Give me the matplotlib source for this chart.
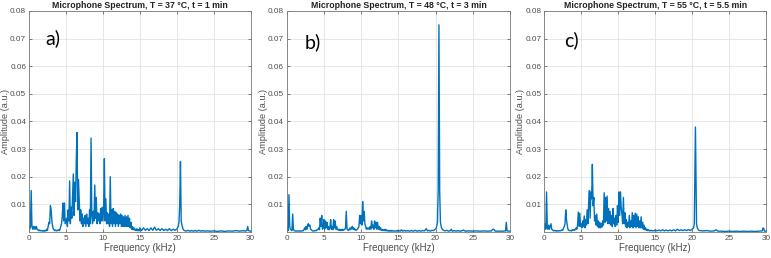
import numpy as np
import matplotlib
matplotlib.use("Agg")
import matplotlib.pyplot as plt

# microphone spectra (frequency in kHz, amplitude a.u.)
# dense part: 0.0 .. 14.9 kHz every 0.1 kHz, then sparser points up to 30 kHz
dense_f = [round(0.1 * i, 1) for i in range(150)]

amp_a_dense = [
    0.002, 0.001, 0.002, 0.015, 0.002, 0.001, 0.002, 0.001, 0.002, 0.001,
    0.002, 0.001, 0.0008, 0.0005, 0.0007, 0.0004, 0.0006, 0.0004, 0.0005, 0.0003,
    0.0005, 0.0003, 0.0006, 0.0004, 0.001, 0.0006, 0.002, 0.0035, 0.003, 0.0095,
    0.008, 0.004, 0.002, 0.001, 0.0008, 0.0005, 0.0007, 0.0004, 0.0006, 0.0005,
    0.0008, 0.0005, 0.001, 0.002, 0.003, 0.0055, 0.0105, 0.004, 0.0105, 0.003,
    0.0035, 0.005, 0.002, 0.008, 0.004, 0.0185, 0.003, 0.009, 0.005, 0.0125,
    0.021, 0.006, 0.018, 0.011, 0.026, 0.036, 0.008, 0.019, 0.012, 0.004,
    0.008, 0.003, 0.0065, 0.002, 0.005, 0.003, 0.006, 0.002, 0.0065, 0.003,
    0.005, 0.002, 0.008, 0.003, 0.034, 0.006, 0.003, 0.0075, 0.004, 0.017,
    0.005, 0.0125, 0.003, 0.007, 0.004, 0.0065, 0.003, 0.0085, 0.004, 0.009,
    0.004, 0.0085, 0.0265, 0.004, 0.012, 0.003, 0.007, 0.003, 0.0065, 0.002,
    0.020, 0.003, 0.008, 0.002, 0.0085, 0.003, 0.0075, 0.002, 0.007, 0.003,
    0.0065, 0.002, 0.006, 0.003, 0.0065, 0.002, 0.006, 0.002, 0.0055, 0.002,
    0.006, 0.002, 0.0055, 0.002, 0.006, 0.002, 0.005, 0.0015, 0.0035, 0.001,
    0.002, 0.0008, 0.0015, 0.0007, 0.001, 0.0005, 0.0012, 0.0005, 0.0008, 0.0004,
]
freq_a_tail = [15.0, 15.25, 15.5, 15.75, 16.0, 16.25, 16.5, 16.75, 17.0, 17.25,
               17.5, 17.75, 18.0, 18.25, 18.5, 18.75, 19.0, 19.25, 19.5, 19.75,
               20.0, 20.2, 20.3, 20.4, 20.5, 20.6, 20.7, 20.85, 21.0, 21.25,
               21.5, 21.75, 22.0, 22.25, 22.5, 22.75, 23.0, 23.25, 23.5, 23.75,
               24.0, 24.5, 25.0, 25.5, 26.0, 26.5, 27.0, 27.5, 28.0, 28.5,
               29.0, 29.3, 29.5, 29.6, 29.7, 30.0]
amp_a_tail = [0.0015, 0.0005, 0.0015, 0.0006, 0.0012, 0.0005, 0.0015, 0.0006, 0.0018, 0.0006,
              0.0012, 0.0005, 0.0012, 0.0005, 0.001, 0.0005, 0.0012, 0.0005, 0.001, 0.0006,
              0.001, 0.002, 0.0035, 0.01, 0.0255, 0.004, 0.0025, 0.001, 0.0006, 0.0003,
              0.0006, 0.0003, 0.0005, 0.0003, 0.0005, 0.0003, 0.0006, 0.0003, 0.0005, 0.0003,
              0.0004, 0.0003, 0.0004, 0.0002, 0.0004, 0.0002, 0.0004, 0.0003, 0.0005, 0.0003,
              0.0005, 0.0003, 0.0006, 0.002, 0.0005, 0.0003]

amp_b_dense = [
    0.001, 0.002, 0.0005, 0.0135, 0.002, 0.001, 0.0008, 0.0005, 0.0065, 0.001,
    0.0005, 0.0004, 0.0003, 0.0004, 0.0003, 0.0004, 0.0003, 0.0004, 0.0003, 0.0004,
    0.0003, 0.0005, 0.0004, 0.0008, 0.0015, 0.0008, 0.002, 0.001, 0.0025, 0.003,
    0.002, 0.0025, 0.001, 0.0008, 0.0005, 0.0004, 0.0003, 0.0005, 0.0004, 0.0006,
    0.0005, 0.0008, 0.001, 0.0015, 0.0008, 0.005, 0.002, 0.006, 0.001, 0.0015,
    0.0045, 0.001, 0.004, 0.0015, 0.0035, 0.001, 0.002, 0.0008, 0.0015, 0.0045,
    0.001, 0.002, 0.0008, 0.0045, 0.0015, 0.004, 0.001, 0.002, 0.0008, 0.001,
    0.0006, 0.001, 0.0005, 0.0008, 0.0005, 0.001, 0.0006, 0.0008, 0.001, 0.0015,
    0.0075, 0.001, 0.0008, 0.0005, 0.001, 0.0015, 0.0008, 0.0015, 0.002, 0.001,
    0.0015, 0.0008, 0.001, 0.0006, 0.0008, 0.001, 0.0015, 0.002, 0.006, 0.003,
    0.006, 0.0025, 0.011, 0.004, 0.0075, 0.003, 0.002, 0.001, 0.0015, 0.001,
    0.0015, 0.001, 0.002, 0.001, 0.004, 0.0015, 0.0025, 0.001, 0.004, 0.0015,
    0.0035, 0.001, 0.0035, 0.001, 0.002, 0.0008, 0.0015, 0.0006, 0.001, 0.0005,
    0.0008, 0.0005, 0.001, 0.0004, 0.0008, 0.0004, 0.0006, 0.0003, 0.0005, 0.0003,
    0.0006, 0.0003, 0.0005, 0.0003, 0.0004, 0.0003, 0.0004, 0.0003, 0.0005, 0.0003,
]
freq_b_tail = [15.0, 15.25, 15.4, 15.6, 15.8, 16.0, 16.25, 16.5, 16.75, 17.0,
               17.25, 17.5, 17.75, 18.0, 18.25, 18.5, 18.75, 18.9, 19.1, 19.3,
               19.5, 19.7, 19.9, 20.05, 20.15, 20.25, 20.35, 20.45, 20.55, 20.65,
               20.75, 20.85, 21.0, 21.25, 21.5, 21.75, 22.0, 22.1, 22.25, 22.5,
               22.75, 23.0, 23.25, 23.5, 23.75, 24.0, 24.5, 25.0, 25.5, 26.0,
               26.5, 27.0, 27.5, 27.7, 27.85, 28.0, 28.5, 29.0, 29.4, 29.5,
               29.6, 30.0]
amp_b_tail = [0.0006, 0.0003, 0.0008, 0.0003, 0.0006, 0.0003, 0.0005, 0.0003, 0.0005, 0.0003,
              0.0006, 0.0003, 0.0005, 0.0003, 0.0005, 0.0004, 0.0012, 0.0004, 0.0006, 0.0003,
              0.0006, 0.0005, 0.0009, 0.0012, 0.002, 0.0035, 0.015, 0.075, 0.015, 0.0035,
              0.002, 0.0012, 0.0007, 0.0004, 0.0006, 0.0003, 0.0005, 0.001, 0.0003, 0.0005,
              0.0003, 0.0005, 0.0003, 0.0004, 0.0007, 0.0003, 0.0004, 0.0003, 0.0004, 0.0003,
              0.0004, 0.0003, 0.0004, 0.001, 0.0009, 0.0003, 0.0003, 0.0003, 0.0004, 0.0035,
              0.0004, 0.0003]

amp_c_dense = [
    0.001, 0.003, 0.001, 0.0145, 0.002, 0.001, 0.0025, 0.001, 0.002, 0.003,
    0.001, 0.0008, 0.0005, 0.0004, 0.0006, 0.0004, 0.0005, 0.0003, 0.0005, 0.0004,
    0.0004, 0.0005, 0.0004, 0.0006, 0.0008, 0.0006, 0.0015, 0.002, 0.003, 0.008,
    0.0045, 0.0025, 0.001, 0.0006, 0.0005, 0.0004, 0.0006, 0.0004, 0.0008, 0.0006,
    0.0008, 0.0006, 0.001, 0.0015, 0.001, 0.0025, 0.0072, 0.002, 0.0068, 0.002,
    0.003, 0.0015, 0.004, 0.002, 0.0058, 0.0015, 0.0045, 0.0025, 0.008, 0.003,
    0.0105, 0.015, 0.005, 0.0145, 0.012, 0.0245, 0.0095, 0.0125, 0.004, 0.006,
    0.0025, 0.0065, 0.002, 0.004, 0.0015, 0.0035, 0.0015, 0.003, 0.0018, 0.004,
    0.0025, 0.0142, 0.0035, 0.0125, 0.004, 0.013, 0.003, 0.0085, 0.003, 0.0075,
    0.0025, 0.006, 0.002, 0.0085, 0.003, 0.005, 0.002, 0.006, 0.0025, 0.0095,
    0.0035, 0.0145, 0.006, 0.0145, 0.009, 0.0065, 0.003, 0.0125, 0.003, 0.007,
    0.002, 0.0045, 0.0015, 0.0035, 0.002, 0.006, 0.0015, 0.004, 0.002, 0.007,
    0.0015, 0.006, 0.002, 0.0068, 0.0015, 0.0065, 0.002, 0.0055, 0.0015, 0.004,
    0.0015, 0.0055, 0.0015, 0.0035, 0.001, 0.0025, 0.0008, 0.0015, 0.0006, 0.001,
    0.0005, 0.0008, 0.0004, 0.0006, 0.0004, 0.0006, 0.0004, 0.0005, 0.0004, 0.0005,
]
freq_c_tail = [15.0, 15.25, 15.5, 15.75, 16.0, 16.25, 16.5, 16.75, 17.0, 17.25,
               17.5, 17.75, 18.0, 18.25, 18.5, 18.75, 19.0, 19.25, 19.5, 19.75,
               20.0, 20.2, 20.3, 20.45, 20.6, 20.7, 20.85, 21.0, 21.5, 22.0,
               22.5, 23.0, 23.25, 23.5, 24.0, 24.5, 25.0, 25.5, 26.0, 26.5,
               27.0, 27.5, 28.0, 28.5, 29.0, 29.5, 29.6, 29.7, 29.8, 30.0]
amp_c_tail = [0.0008, 0.0004, 0.0007, 0.0004, 0.0008, 0.0004, 0.0007, 0.0004, 0.0007, 0.0004,
              0.0008, 0.0004, 0.001, 0.0005, 0.0008, 0.0005, 0.0008, 0.0005, 0.0009, 0.0005,
              0.001, 0.0015, 0.003, 0.038, 0.003, 0.0015, 0.0008, 0.0005, 0.0004, 0.0005,
              0.0003, 0.0004, 0.0008, 0.0003, 0.0003, 0.0002, 0.0003, 0.0002, 0.0003, 0.0002,
              0.0003, 0.0002, 0.0003, 0.0002, 0.0003, 0.0004, 0.0015, 0.0012, 0.0003, 0.0003]

titles = ["Microphone Spectrum, T = 37 °C, t = 1 min",
          "Microphone Spectrum, T = 48 °C, t = 3 min",
          "Microphone Spectrum, T = 55 °C, t = 5.5 min"]
panel_tags = ["a)", "b)", "c)"]
xticks = [0, 5, 10, 15, 20, 25, 30]
yticks = [0.01, 0.02, 0.03, 0.04, 0.05, 0.06, 0.07, 0.08]

spectra = [
    (dense_f + freq_a_tail, amp_a_dense + amp_a_tail),
    (dense_f + freq_b_tail, amp_b_dense + amp_b_tail),
    (dense_f + freq_c_tail, amp_c_dense + amp_c_tail),
]

plt.rcParams['font.family'] = ['Liberation Sans', 'DejaVu Sans']

fig = plt.figure(figsize=(7.71, 2.58), dpi=100)
boxes = [[0.0376, 0.1008, 0.2875, 0.8566],
         [0.3719, 0.1008, 0.2896, 0.8566],
         [0.7060, 0.1008, 0.2875, 0.8566]]
tag_pos = [(0.072, 0.875), (0.078, 0.86), (0.09, 0.87)]

line_col = '#0072BD'
txt_col = '#4d4d4d'

for i in range(3):
    ax = fig.add_axes(boxes[i])
    f, a = spectra[i]
    ax.plot(f, a, color=line_col, lw=1.0)
    ax.set_xlim(0, 30)
    ax.set_ylim(0, 0.08)
    ax.set_xticks(xticks)
    ax.set_yticks(yticks)
    ax.set_yticklabels(["%.2f" % v for v in yticks])
    ax.grid(True, color='#e3e3e3', lw=0.6)
    ax.set_axisbelow(True)
    ax.tick_params(direction='in', length=2, width=0.5, labelsize=5.9,
                   colors=txt_col, top=True, right=True, pad=2)
    for s in ax.spines.values():
        s.set_color('#7a7a7a')
        s.set_linewidth(0.6)
    ax.set_title(titles[i], fontsize=6.3, fontweight='bold', color='#222222', pad=2)
    ax.set_xlabel("Frequency (kHz)", fontsize=7, color=txt_col, labelpad=1)
    ax.set_ylabel("Amplitude (a.u.)", fontsize=6.6, color=txt_col, labelpad=0)
    ax.text(tag_pos[i][0], tag_pos[i][1], panel_tags[i], transform=ax.transAxes,
            fontsize=14, family=['Lato', 'DejaVu Sans'], color='black',
            va='center', ha='left')

fig.savefig('out.png', dpi=100)
